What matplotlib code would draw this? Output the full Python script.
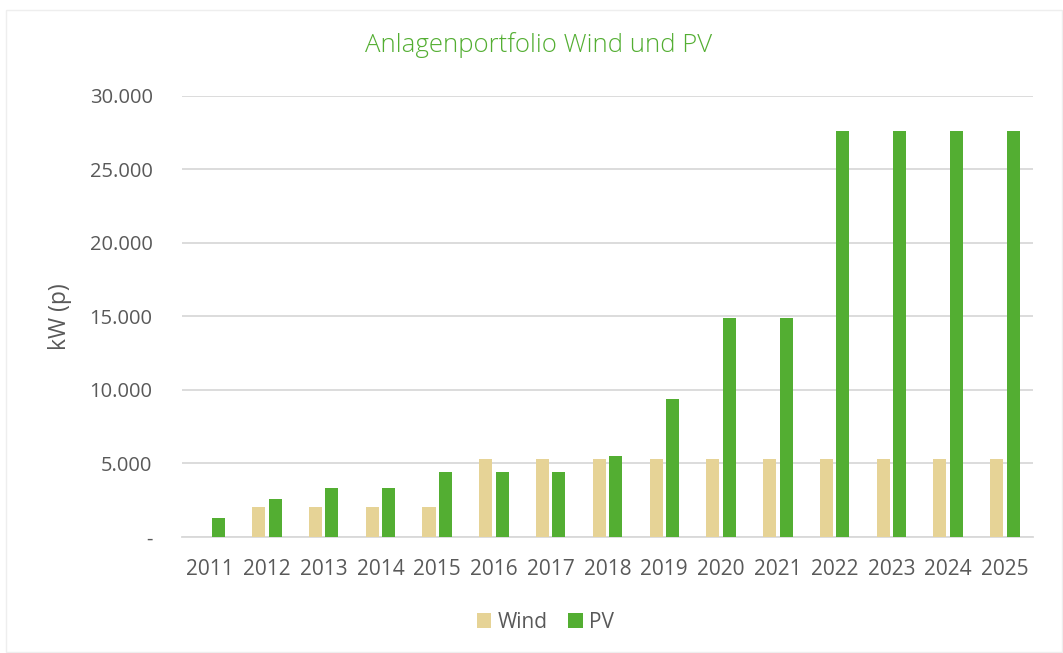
import numpy as np
import matplotlib.pyplot as plt
from matplotlib.ticker import FuncFormatter
from matplotlib.patches import Rectangle

years = ["2011", "2012", "2013", "2014", "2015", "2016", "2017", "2018",
         "2019", "2020", "2021", "2022", "2023", "2024", "2025"]
wind = [0, 2000, 2000, 2000, 2000, 5300, 5300, 5300,
        5300, 5300, 5300, 5300, 5300, 5300, 5300]
pv = [1300, 2600, 3300, 3300, 4400, 4400, 4400, 5500,
      9400, 14900, 14900, 27650, 27650, 27650, 27650]

wind_color = "#E6D396"
pv_color = "#53AE32"
text_color = "#595959"
grid_color = "#D9D9D9"

plt.rcParams['font.family'] = ['Open Sans', 'DejaVu Sans']

fig = plt.figure(figsize=(10.63, 6.53), dpi=100)
ax = fig.add_axes([0.171, 0.178, 0.801, 0.675])

x = np.arange(len(years))
w = 0.23
ax.bar(x - 0.145, wind, w, color=wind_color, label="Wind", zorder=3)
ax.bar(x + 0.145, pv, w, color=pv_color, label="PV", zorder=3)

ax.set_xlim(-0.5, len(years) - 0.5)
ax.set_ylim(0, 30000)
ax.set_yticks(np.arange(0, 30001, 5000))
ax.yaxis.set_major_formatter(FuncFormatter(
    lambda v, p: "-" if v == 0 else f"{int(v):,}".replace(",", ".")))
ax.set_xticks(x)
ax.set_xticklabels(years)
ax.tick_params(length=0, labelcolor=text_color)
ax.tick_params(axis="y", pad=21, labelsize=14.5)
ax.tick_params(axis="x", pad=16, labelsize=15)

ax.grid(axis="y", color=grid_color, linewidth=1.3, zorder=0)
for s in ["top", "right", "left"]:
    ax.spines[s].set_visible(False)
ax.spines["bottom"].set_color(grid_color)
ax.spines["bottom"].set_linewidth(1.3)

ax.set_ylabel("kW (p)", fontsize=16.5, color=text_color, labelpad=13)
fig.text(0.507, 0.931, "Anlagenportfolio Wind und PV", ha="center", va="center",
         fontsize=18.5, color=pv_color, fontweight="light")

ax.legend(loc="upper center", bbox_to_anchor=(0.427, -0.128), ncol=2, frameon=False,
          fontsize=15, labelcolor=text_color, handlelength=0.7, handleheight=0.7,
          handletextpad=0.3, columnspacing=1.0)

fig.patches.append(Rectangle((0.006, 0.002), 0.993, 0.983, transform=fig.transFigure,
                             fill=False, edgecolor="#EEEEEE", linewidth=1))

fig.savefig("out.png", dpi=100)
